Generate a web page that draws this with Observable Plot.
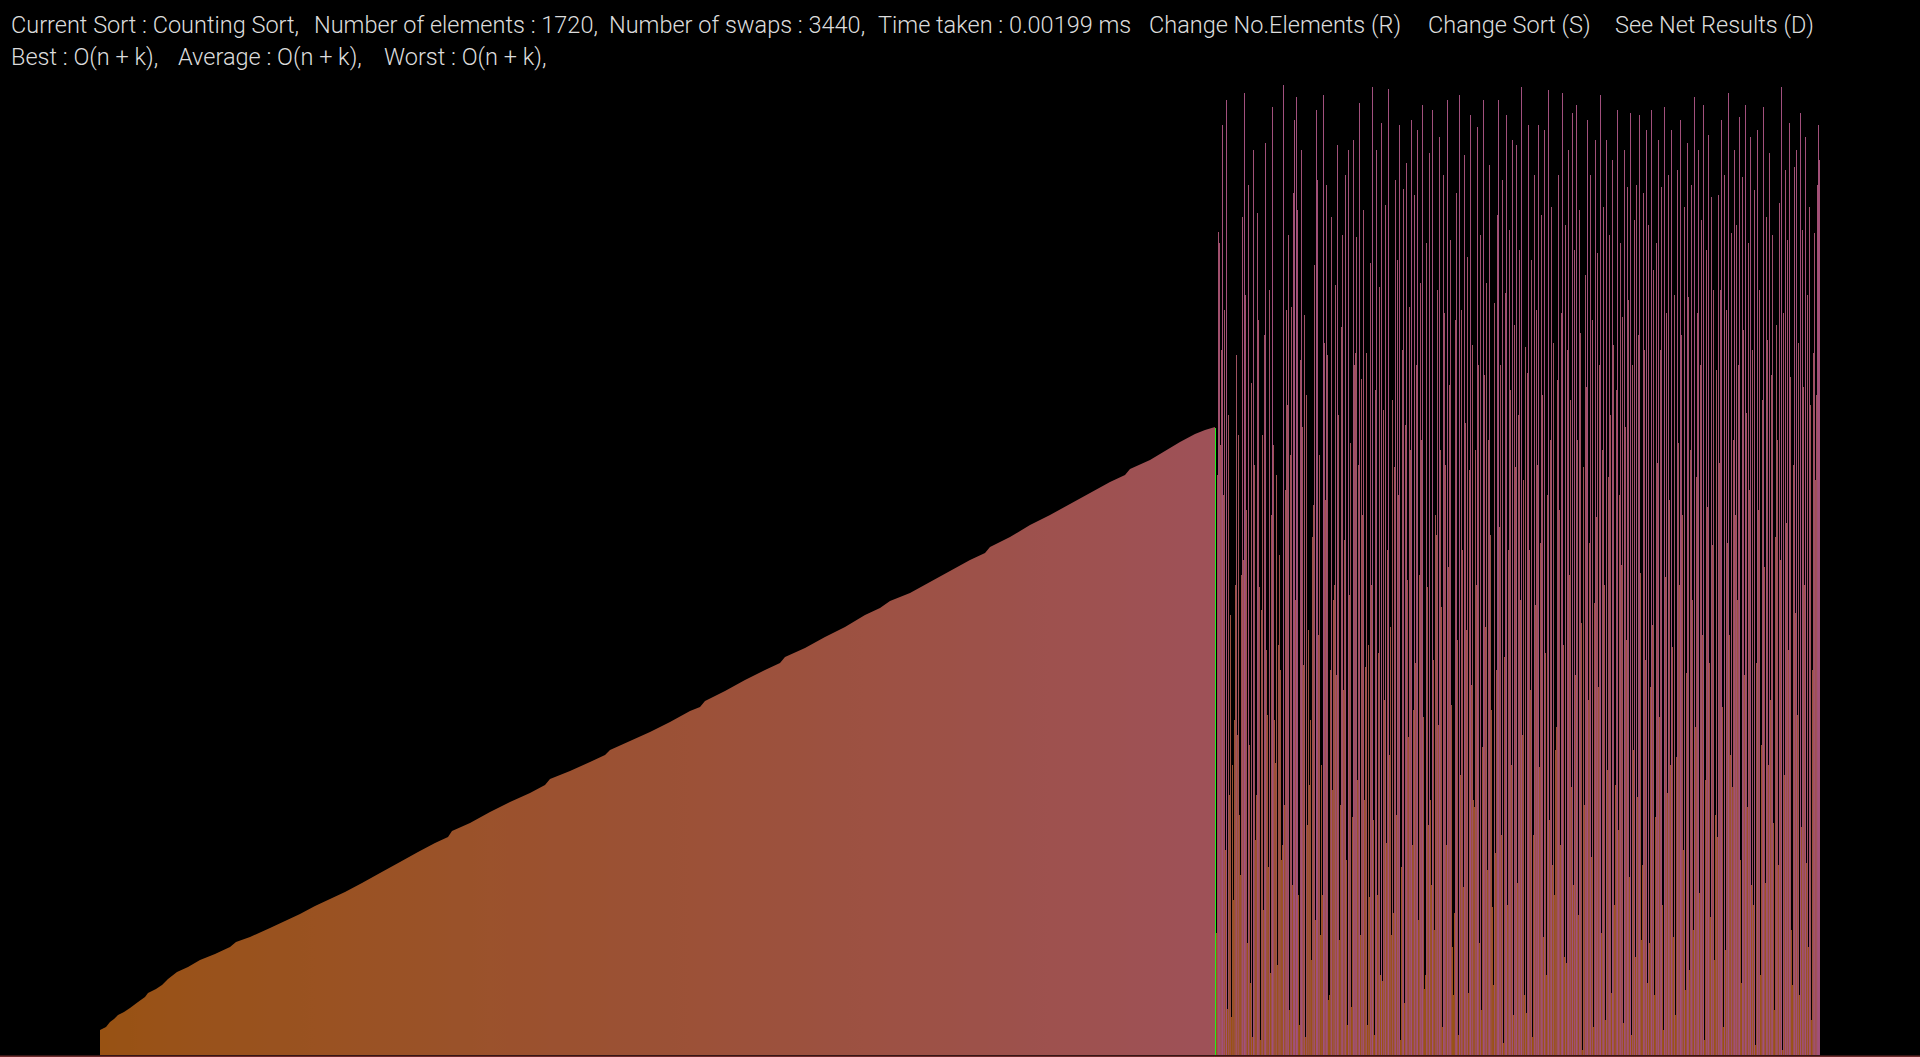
<!DOCTYPE html>
<html><head><meta charset="utf-8">
<script src="https://cdn.jsdelivr.net/npm/d3@7"></script>
<script src="https://cdn.jsdelivr.net/npm/@observablehq/plot@0.6"></script>
<style>
html,body{margin:0;padding:0;background:#000;width:1920px;height:1057px;overflow:hidden;}
#wrap{position:relative;width:1920px;height:1057px;background:#000;}
#chart{position:absolute;left:0;top:0;}
.t{position:absolute;font-family:"Roboto Light",Roboto,"Noto Sans",sans-serif;font-weight:300;font-size:23.5px;line-height:24px;color:#dcdcdc;white-space:pre;}
</style></head>
<body><div id="wrap"><div id="chart"></div></div>
<script>
// ---- header texts ----
const headerLine1 = ["Current Sort : Counting Sort,", "Number of elements : 1720,", "Number of swaps : 3440,", "Time taken : 0.00199 ms", "Change No.Elements (R)", "Change Sort (S)", "See Net Results (D)"];
const headerLine2 = ["Best : O(n + k),", "Average : O(n + k),", "Worst : O(n + k),"];

// ---- sorted prefix (breakpoints read along its top edge): index, value ----
const sortedIndex = [0, 6, 10, 14, 18, 24, 30, 38, 45, 48, 56, 62, 68, 77, 88, 100, 115, 130, 136, 150, 170, 185, 200, 215, 230, 245, 262, 280, 300, 318, 335, 348, 352, 370, 390, 410, 430, 445, 450, 470, 490, 505, 510, 530, 550, 570, 590, 600, 605, 625, 645, 665, 680, 685, 705, 725, 745, 765, 780, 790, 810, 830, 850, 870, 885, 890, 910, 930, 950, 970, 990, 1010, 1025, 1030, 1050, 1065, 1080, 1095, 1105, 1115];
const sortedValue = [25, 28, 33, 36, 40, 43, 47, 53, 58, 62, 66, 70, 76, 83, 88, 95, 101, 108, 113, 118, 127, 134, 141, 149, 156, 163, 172, 182, 193, 203, 212, 218, 224, 232, 243, 253, 262, 270, 276, 284, 293, 300, 305, 314, 323, 333, 344, 348, 354, 364, 375, 385, 392, 398, 407, 418, 428, 440, 447, 454, 462, 473, 484, 495, 502, 508, 518, 530, 540, 551, 562, 573, 580, 586, 595, 604, 613, 621, 625, 628];

// ---- current element marker ----
const markerIndex = 1115;
const markerValue = 627;

// ---- remaining unsorted values (indices 1116..1719) ----
const unsortedValues = [
122,580,823,812,610,705,930,560,745,205,955,46,640,260,440,38,290,155,335,470,
700,320,620,240,180,480,838,495,962,760,545,112,870,310,72,672,18,905,590,215,
260,842,735,468,15,445,620,145,720,912,405,340,188,765,82,540,948,610,335,292,
580,90,410,500,385,195,210,970,250,565,745,650,820,45,600,748,170,862,935,455,
958,845,160,30,695,905,628,390,740,18,660,230,425,270,335,95,518,550,790,135,
945,875,420,600,120,290,160,960,712,555,870,700,55,60,385,838,265,455,470,770,
380,910,640,115,250,728,820,365,515,880,195,30,905,460,612,48,238,915,690,702,
818,275,590,952,120,676,540,845,255,388,702,30,410,158,792,470,968,235,20,665,
905,160,402,768,80,932,74,645,355,850,212,505,966,300,428,120,655,142,588,875,
240,795,560,930,15,188,705,866,52,630,892,475,318,748,605,935,210,345,860,392,
690,925,135,480,772,615,950,338,66,80,812,468,230,902,255,170,945,395,125,540,
520,765,330,918,605,448,28,880,742,590,210,955,488,670,815,350,108,60,142,735,
862,415,20,960,280,745,505,168,900,632,425,798,62,585,940,370,710,255,248,605,
470,928,690,112,820,45,308,955,680,428,772,185,615,890,520,345,148,70,752,202,
385,840,955,528,690,220,875,12,398,762,940,150,505,825,665,290,915,40,730,588,
910,172,640,805,455,968,320,575,60,708,42,682,930,505,365,795,18,220,880,450,
745,590,930,288,512,840,660,118,925,402,80,560,965,235,615,848,190,712,160,305,
328,675,880,545,210,742,962,410,98,830,92,705,905,480,655,268,942,170,805,380,
950,615,140,845,722,432,5,588,250,780,668,935,355,512,880,198,735,28,452,915,
538,802,368,690,960,122,605,848,470,35,915,285,578,820,640,62,895,710,150,270,
665,945,225,560,812,490,738,32,905,628,415,868,755,178,942,20,690,305,835,98,
870,258,720,940,482,115,190,862,705,395,925,72,830,112,368,945,430,785,60,238,
812,592,915,338,705,868,150,25,948,478,742,262,880,555,290,925,408,118,760,40,
298,885,612,470,935,720,540,205,848,65,382,912,758,85,605,870,455,125,958,328,
578,742,905,162,690,835,420,950,15,275,805,548,920,392,138,858,510,765,95,240,
685,218,860,592,765,935,348,28,880,105,745,512,962,420,300,822,268,615,905,540,
830,455,690,938,195,72,878,725,380,950,642,248,812,565,918,170,705,150,865,10,
392,925,545,765,80,310,655,948,488,172,838,715,290,902,355,680,820,232,45,518,
730,615,190,852,495,968,5,742,280,885,532,815,405,932,678,125,70,590,888,442,
905,340,712,60,942,228,825,668,470,918,192,760,108,848,650,35,385,702,822,575,
660,870,930,895
];

const elementCount = 1720;

// ---- layout (positions only) ----
const line1Left = [11, 314, 609, 878, 1149, 1428, 1615];
const line2Left = [11, 178, 384];

const wrap = document.getElementById("wrap");
function addText(str, left, top) {
  const d = document.createElement("div");
  d.className = "t"; d.textContent = str;
  d.style.left = left + "px"; d.style.top = top + "px";
  wrap.appendChild(d);
}
headerLine1.forEach((s, k) => addText(s, line1Left[k], 13));
headerLine2.forEach((s, k) => addText(s, line2Left[k], 45));

const sortedPts = sortedIndex.map((i, k) => ({i, v: sortedValue[k]}));
const startUnsorted = markerIndex + 1;
const unsortedBars = unsortedValues.map((v, k) => ({i: startUnsorted + k, v}));
const marker = [{i: markerIndex, v: markerValue}];

const plot = Plot.plot({
  width: 1920, height: 1057,
  marginLeft: 100, marginRight: 100, marginTop: 55, marginBottom: 2,
  x: {type: "linear", domain: [0, elementCount], axis: null},
  y: {domain: [0, 1000], axis: null},
  color: {type: "linear", domain: [0, 972], range: ["#985210", "#a2507f"], interpolate: "rgb"},
  style: {background: "transparent", overflow: "visible"},
  marks: [
    Plot.areaY(sortedPts, {x: "i", y: "v", fill: "url(#sortedGrad)", curve: "linear"}),
    Plot.rectY(unsortedBars, {x1: "i", x2: d => d.i + 1, y: "v", fill: "v", shapeRendering: "crispEdges"}),
    Plot.rectY(marker, {x1: "i", x2: d => d.i + 1, y: "v", fill: "#22ee22", shapeRendering: "crispEdges"}),
    Plot.ruleY([0], {x1: () => -100, x2: () => elementCount + 100, stroke: "#6e2c2c", strokeWidth: 2, dy: 1})
  ]
});

// gradient for the sorted prefix, colours from the plot's colour scale
const cs = plot.scale("color");
const colorOf = cs.apply ? (v => cs.apply(v)) : (v => Plot.scale({color: cs}).apply(v));
const ns = "http://www.w3.org/2000/svg";
const defs = document.createElementNS(ns, "defs");
const grad = document.createElementNS(ns, "linearGradient");
grad.setAttribute("id", "sortedGrad");
grad.setAttribute("x1", "0"); grad.setAttribute("y1", "0");
grad.setAttribute("x2", "1"); grad.setAttribute("y2", "0");
const iMax = sortedIndex[sortedIndex.length - 1];
sortedPts.forEach(p => {
  const st = document.createElementNS(ns, "stop");
  st.setAttribute("offset", (p.i / iMax).toFixed(4));
  st.setAttribute("stop-color", colorOf(p.v));
  grad.appendChild(st);
});
defs.appendChild(grad);
plot.insertBefore(defs, plot.firstChild);
document.getElementById("chart").appendChild(plot);
</script>
</body></html>
